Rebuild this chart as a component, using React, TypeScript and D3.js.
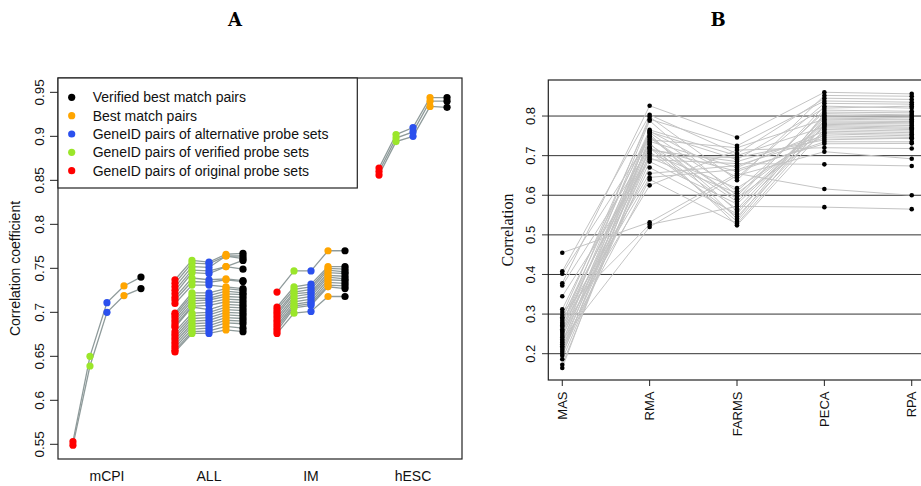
import React from 'react';
import * as d3 from 'd3';

// ---------- Panel A data ----------
const groups = ['mCPI', 'ALL', 'IM', 'hESC'];
const seriesNames = [
  'GeneID pairs of original probe sets',
  'GeneID pairs of verified probe sets',
  'GeneID pairs of alternative probe sets',
  'Best match pairs',
  'Verified best match pairs',
];
const seriesColors = ['#ff0000', '#9be62a', '#2b50ee', '#ffa500', '#000000'];

// each row: [original, verified, alternative, best match, verified best match]
const mcpiLines = [
  [0.553, 0.650, 0.711, 0.730, 0.740],
  [0.549, 0.639, 0.700, 0.719, 0.727],
];
const allLines = [
  [0.737, 0.759, 0.757, 0.766, 0.767],
  [0.733, 0.756, 0.755, 0.764, 0.764],
  [0.729, 0.752, 0.751, 0.764, 0.761],
  [0.725, 0.748, 0.747, 0.752, 0.759],
  [0.721, 0.745, 0.744, 0.752, 0.749],
  [0.717, 0.739, 0.737, 0.738, 0.736],
  [0.714, 0.735, 0.734, 0.737, 0.735],
  [0.710, 0.731, 0.731, 0.729, 0.727],
  [0.699, 0.722, 0.722, 0.727, 0.725],
  [0.697, 0.719, 0.719, 0.724, 0.722],
  [0.694, 0.716, 0.716, 0.721, 0.720],
  [0.691, 0.713, 0.714, 0.718, 0.717],
  [0.688, 0.710, 0.711, 0.715, 0.714],
  [0.685, 0.707, 0.708, 0.712, 0.711],
  [0.683, 0.706, 0.703, 0.709, 0.708],
  [0.678, 0.699, 0.700, 0.706, 0.705],
  [0.675, 0.696, 0.697, 0.703, 0.702],
  [0.672, 0.693, 0.694, 0.700, 0.699],
  [0.669, 0.690, 0.691, 0.697, 0.696],
  [0.666, 0.687, 0.688, 0.694, 0.693],
  [0.663, 0.684, 0.685, 0.691, 0.690],
  [0.660, 0.681, 0.682, 0.688, 0.687],
  [0.657, 0.678, 0.679, 0.684, 0.682],
  [0.655, 0.676, 0.676, 0.680, 0.678],
];
const imLines = [
  [0.723, 0.747, 0.747, 0.770, 0.770],
  [0.706, 0.729, 0.732, 0.752, 0.752],
  [0.703, 0.726, 0.729, 0.750, 0.749],
  [0.700, 0.723, 0.726, 0.748, 0.746],
  [0.697, 0.721, 0.723, 0.745, 0.744],
  [0.694, 0.718, 0.721, 0.742, 0.741],
  [0.691, 0.715, 0.718, 0.740, 0.738],
  [0.688, 0.712, 0.715, 0.737, 0.736],
  [0.685, 0.709, 0.712, 0.734, 0.733],
  [0.682, 0.707, 0.710, 0.731, 0.730],
  [0.679, 0.705, 0.708, 0.729, 0.727],
  [0.676, 0.699, 0.701, 0.718, 0.718],
];
const hescLines = [
  [0.864, 0.902, 0.910, 0.944, 0.944],
  [0.860, 0.898, 0.905, 0.940, 0.940],
  [0.856, 0.894, 0.900, 0.934, 0.933],
];
const groupLines = [mcpiLines, allLines, imLines, hescLines];
const leftTicks = [0.55, 0.6, 0.65, 0.7, 0.75, 0.8, 0.85, 0.9, 0.95];

// ---------- Panel B data ----------
const methods = ['MAS', 'RMA', 'FARMS', 'PECA', 'RPA'];
const masValues = [0.455, 0.408, 0.402, 0.378, 0.372, 0.345, 0.312, 0.305, 0.298, 0.292, 0.288, 0.283, 0.278, 0.275, 0.271, 0.268, 0.262, 0.258, 0.255, 0.250, 0.245, 0.241, 0.236, 0.232, 0.228, 0.224, 0.219, 0.215, 0.210, 0.205, 0.200, 0.195, 0.186, 0.172, 0.164];
const rmaValues = [0.532, 0.803, 0.745, 0.826, 0.720, 0.690, 0.758, 0.526, 0.792, 0.710, 0.765, 0.655, 0.732, 0.798, 0.645, 0.750, 0.700, 0.625, 0.788, 0.736, 0.670, 0.762, 0.520, 0.728, 0.755, 0.714, 0.640, 0.740, 0.695, 0.722, 0.685, 0.760, 0.706, 0.718, 0.748];
const farmsValues = [0.655, 0.705, 0.590, 0.746, 0.534, 0.680, 0.610, 0.572, 0.725, 0.546, 0.700, 0.675, 0.524, 0.638, 0.665, 0.560, 0.695, 0.714, 0.598, 0.670, 0.553, 0.645, 0.650, 0.584, 0.540, 0.685, 0.528, 0.720, 0.605, 0.565, 0.578, 0.690, 0.618, 0.660, 0.592];
const pecaValues = [0.616, 0.845, 0.825, 0.860, 0.795, 0.678, 0.810, 0.570, 0.838, 0.776, 0.773, 0.745, 0.766, 0.852, 0.730, 0.782, 0.740, 0.720, 0.815, 0.762, 0.802, 0.832, 0.710, 0.788, 0.806, 0.750, 0.779, 0.792, 0.770, 0.798, 0.785, 0.820, 0.758, 0.735, 0.755];
const rpaValues = [0.600, 0.842, 0.820, 0.856, 0.792, 0.674, 0.808, 0.565, 0.835, 0.772, 0.769, 0.743, 0.762, 0.850, 0.731, 0.780, 0.744, 0.718, 0.812, 0.758, 0.800, 0.830, 0.692, 0.786, 0.803, 0.746, 0.776, 0.790, 0.766, 0.796, 0.783, 0.825, 0.754, 0.735, 0.750];
const methodValues = [masValues, rmaValues, farmsValues, pecaValues, rpaValues];
const rightTicks = [0.2, 0.3, 0.4, 0.5, 0.6, 0.7, 0.8];

const SANS = '"Liberation Sans", Arial, Helvetica, sans-serif';
const SERIF = '"Liberation Serif", "Times New Roman", serif';

export default function App() {
  // Panel A scales
  const xL = d3.scaleLinear().domain([0.12, 23.88]).range([58, 462]);
  const yL = d3.scaleLinear().domain([0.5333, 0.9663]).range([459, 78]);
  const posIdx = (g: number, s: number) => g * 6 + s + 1;
  const lineL = d3.line<[number, number]>().x((d) => d[0]).y((d) => d[1]);

  // Panel B scales
  const xR = d3.scaleLinear().domain([0.84, 5.16]).range([548.3, 925.7]);
  const yR = d3.scaleLinear().domain([0.1336, 0.891]).range([380, 80]);
  const nLines = masValues.length;
  const lineR = d3.line<number>().x((_, i) => xR(i + 1)).y((d) => yR(d));

  const legendRows = [4, 3, 2, 1, 0];

  return (
    <svg width={921} height={486} style={{ position: 'absolute', left: 0, top: 0, background: '#fff' }}>
      <rect x={0} y={0} width={921} height={486} fill="#fff" />
      {/* Titles */}
      <text x={235} y={26} textAnchor="middle" fontFamily='"DejaVu Serif", serif' fontWeight="bold" fontSize={18}>A</text>
      <text x={718} y={26} textAnchor="middle" fontFamily='"DejaVu Serif", serif' fontWeight="bold" fontSize={18}>B</text>

      {/* ===== Panel A ===== */}
      <g>
        {groupLines.map((lines, g) =>
          lines.map((row, r) => (
            <path
              key={`l${g}-${r}`}
              d={lineL(row.map((v, s) => [xL(posIdx(g, s)), yL(v)] as [number, number])) || ''}
              fill="none"
              stroke="#8f9b9b"
              strokeWidth={1.3}
            />
          ))
        )}
        {groupLines.map((lines, g) =>
          seriesColors.map((c, s) =>
            lines.map((row, r) => (
              <circle key={`p${g}-${s}-${r}`} cx={xL(posIdx(g, s))} cy={yL(row[s])} r={3.6} fill={c} />
            ))
          )
        )}
        <rect x={58} y={78} width={404} height={381} fill="none" stroke="#222" strokeWidth={1.2} />
        {leftTicks.map((t) => (
          <g key={`lt${t}`}>
            <line x1={50} x2={58} y1={yL(t)} y2={yL(t)} stroke="#222" strokeWidth={1} />
            <text
              transform={`translate(43.5,${yL(t)}) rotate(-90)`}
              textAnchor="middle"
              fontFamily={SANS}
              fontSize={13.5}
              fill="#111"
            >
              {String(t)}
            </text>
          </g>
        ))}
        <text
          transform={`translate(20,268.5) rotate(-90)`}
          textAnchor="middle"
          fontFamily={SANS}
          fontSize={14}
          fill="#111"
        >
          Correlation coefficient
        </text>
        {groups.map((gname, g) => (
          <text key={gname} x={xL(posIdx(g, 2))} y={480.5} textAnchor="middle" fontFamily={SANS} fontSize={14} fill="#111">
            {gname}
          </text>
        ))}
        {/* Legend */}
        <rect x={58} y={78} width={299.3} height={110} fill="#fff" stroke="#222" strokeWidth={1.2} />
        {legendRows.map((s, i) => (
          <g key={`lg${s}`}>
            <circle cx={71.7} cy={97.3 + i * 18.35} r={3.6} fill={seriesColors[s]} />
            <text x={92.7} y={97.3 + i * 18.35 + 5} fontFamily={SANS} fontSize={14} fill="#111">
              {seriesNames[s]}
            </text>
          </g>
        ))}
      </g>

      {/* ===== Panel B ===== */}
      <g>
        {rightTicks.map((t) => (
          <line key={`g${t}`} x1={542} x2={921} y1={yR(t)} y2={yR(t)} stroke="#333" strokeWidth={1} />
        ))}
        {d3.range(nLines).map((i) => (
          <path
            key={`rl${i}`}
            d={lineR(methodValues.map((arr) => arr[i])) || ''}
            fill="none"
            stroke="#c4c4c4"
            strokeWidth={1}
          />
        ))}
        {methodValues.map((arr, m) =>
          arr.map((v, i) => <circle key={`rp${m}-${i}`} cx={xR(m + 1)} cy={yR(v)} r={2.3} fill="#000" />)
        )}
        <rect x={548.3} y={80} width={377.4} height={300} fill="none" stroke="#222" strokeWidth={1.2} />
        {rightTicks.map((t) => (
          <text
            key={`rt${t}`}
            transform={`translate(535,${yR(t)}) rotate(-90)`}
            textAnchor="middle"
            fontFamily={SANS}
            fontSize={13}
            fill="#111"
          >
            {String(t)}
          </text>
        ))}
        <text
          transform={`translate(513,230) rotate(-90)`}
          textAnchor="middle"
          fontFamily={SERIF}
          fontSize={16}
          fill="#111"
        >
          Correlation
        </text>
        {methods.map((m, i) => (
          <g key={m}>
            <line x1={xR(i + 1)} x2={xR(i + 1)} y1={380} y2={386} stroke="#222" strokeWidth={1} />
            <text
              transform={`translate(${xR(i + 1)},391.5) rotate(-90)`}
              textAnchor="end"
              dy="0.36em"
              fontFamily={SANS}
              fontSize={13}
              fill="#111"
            >
              {m}
            </text>
          </g>
        ))}
      </g>
    </svg>
  );
}
